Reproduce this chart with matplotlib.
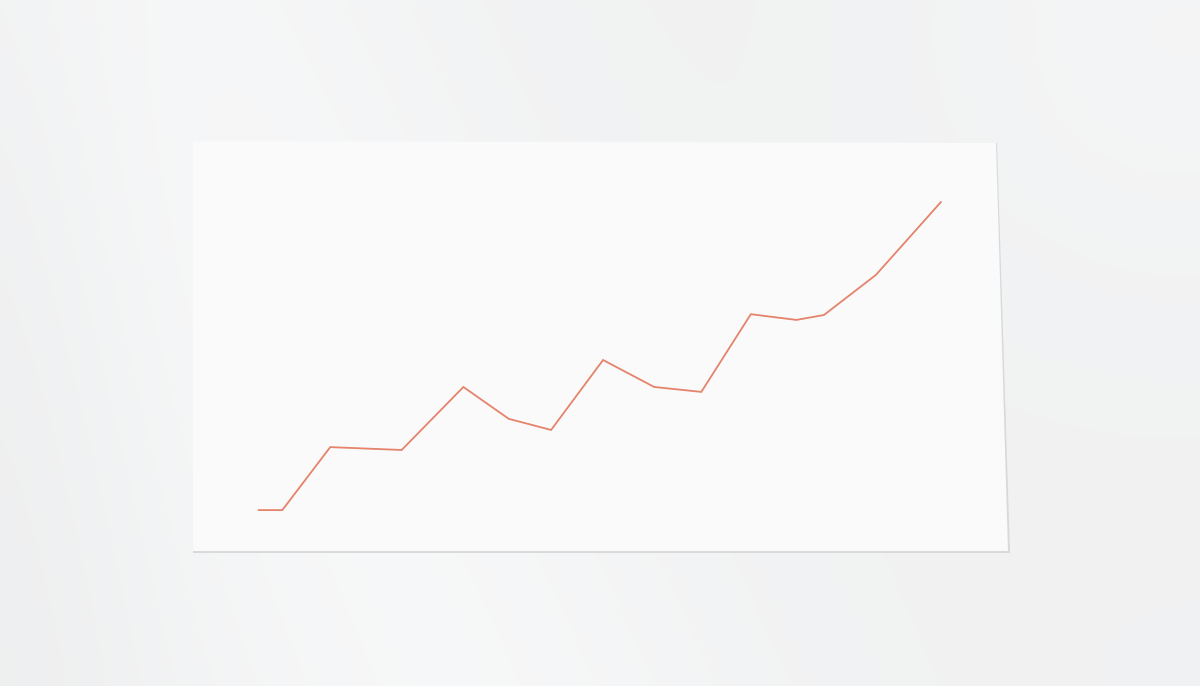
import numpy as np
import matplotlib
matplotlib.use("Agg")
import matplotlib.pyplot as plt
from matplotlib.patches import Polygon

# Data (x position and value on 0-100 scales)
x_vals = [8.1, 11.0, 16.9, 25.7, 33.3, 38.9, 44.1, 50.5, 56.8, 62.6, 68.7, 74.3, 77.7, 84.1, 92.1]
y_vals = [10.0, 10.0, 25.4, 24.7, 40.1, 32.3, 29.6, 46.7, 40.1, 38.9, 57.9, 56.5, 57.7, 67.5, 85.3]

W, H = 1200, 686
fig = plt.figure(figsize=(12, 6.86), dpi=100)

# Background "photo" gradient
bg = fig.add_axes([0, 0, 1, 1])
bg.set_xlim(0, W)
bg.set_ylim(H, 0)
bg.axis("off")
xx, yy = np.meshgrid(np.linspace(0, W, 300), np.linspace(0, H, 172))
base = 0.948
d = (xx - (140 + yy * 0.45))
band = 0.022 * np.exp(-(d / 280.0) ** 2)
left = -0.012 * np.exp(-(xx / 160.0) ** 2)
tr = 0.012 * np.exp(-(((xx - 1180) / 260.0) ** 2 + ((yy - 30) / 260.0) ** 2))
img = np.clip(base + band + left + tr, 0, 1)
rgb = np.dstack([img - 0.003, img, img + 0.003])
bg.imshow(np.clip(rgb, 0, 1), extent=[0, W, H, 0], aspect="auto", zorder=0, interpolation="bicubic")

# paper edge shadow and sheet
shadow = Polygon([[193, 143], [997, 143], [1010, 553], [193, 553]], closed=True,
                 facecolor="#d8d9da", edgecolor="none", zorder=1)
bg.add_patch(shadow)
paper = Polygon([[193, 141], [996, 143], [1008, 551], [193, 551]], closed=True,
                facecolor="#fafafa", edgecolor="none", zorder=2)
bg.add_patch(paper)

# Data axes on the sheet
ax = fig.add_axes([193 / W, (H - 551) / H, (1005 - 193) / W, (551 - 142) / H])
ax.patch.set_alpha(0)
ax.set_xlim(0, 100)
ax.set_ylim(0, 100)
ax.axis("off")
ax.plot(x_vals, y_vals, color="#e5836b", linewidth=1.3, solid_joinstyle="miter")

fig.savefig("out.png", dpi=100)
